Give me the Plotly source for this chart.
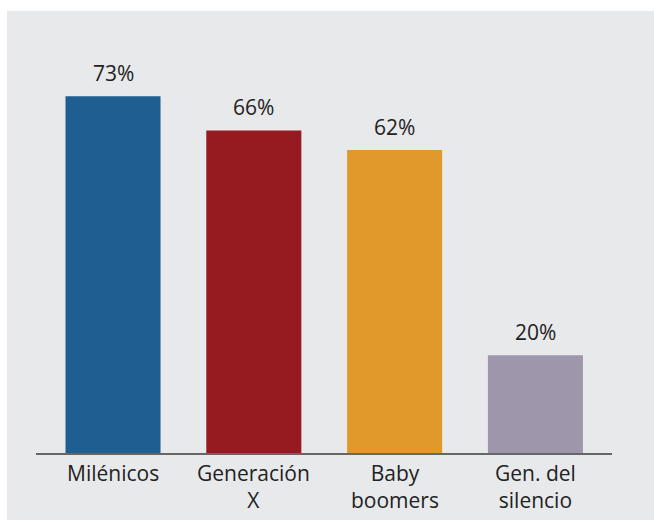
import plotly.graph_objects as go

categories = ["Milénicos", "Generación X", "Baby boomers", "Gen. del silencio"]
tick_text = ["Milénicos", "Generación<br>X", "Baby<br>boomers", "Gen. del<br>silencio"]
values = [73, 66, 62, 20]
labels = ["73%", "66%", "62%", "20%"]
colors = ["#1f5e91", "#951b20", "#e0992a", "#9e97ab"]

W, H = 654, 504
ML, MR, MT, MB = 28, 50, 54, 59
pw, ph = W - ML - MR, H - MT - MB
bg = "#e8e9eb"
txt = "#222222"
font_family = "Open Sans"

fig = go.Figure()
fig.add_trace(go.Bar(
    x=categories, y=values,
    marker=dict(color=colors, line=dict(width=0)),
    hoverinfo="skip",
))

for c, v, t in zip(categories, values, labels):
    fig.add_annotation(x=c, y=v, text=t, showarrow=False, yanchor="middle",
                       yshift=23, font=dict(family=font_family, size=21, color=txt))

for c, t in zip(categories, tick_text):
    n_lines = t.count("<br>") + 1
    fig.add_annotation(x=c, xref="x", y=0, yref="paper", text=t, showarrow=False,
                       yanchor="middle", yshift=-20 if n_lines == 1 else -33.5,
                       font=dict(family=font_family, size=21, color=txt))

# thin white strip at the top of the figure
fig.add_shape(type="rect", xref="paper", yref="paper", layer="below",
              x0=-ML / pw, x1=(W - ML) / pw,
              y0=(H - MB - 3) / ph, y1=(H - MB) / ph,
              fillcolor="white", line=dict(width=0))

fig.update_layout(
    width=W, height=H,
    margin=dict(l=ML, r=MR, t=MT, b=MB, pad=0),
    paper_bgcolor=bg,
    plot_bgcolor=bg,
    bargap=0.325,
    showlegend=False,
    xaxis=dict(range=[-0.547, 3.544], showline=True, linecolor="#666666", linewidth=1.5,
               ticks="", showticklabels=False, showgrid=False, zeroline=False),
    yaxis=dict(range=[0, 80], visible=False, showgrid=False, zeroline=False),
)

page_fix = (
    "var r=document.documentElement;"
    "r.style.background='linear-gradient(to right,#ffffff 7px,rgba(255,255,255,0) 7px),"
    "linear-gradient(to bottom,#ffffff 11px," + bg + " 11px)';"
    "document.body.style.background='transparent';"
)

fig.write_html("out.html", post_script=page_fix, config={"displayModeBar": False})
